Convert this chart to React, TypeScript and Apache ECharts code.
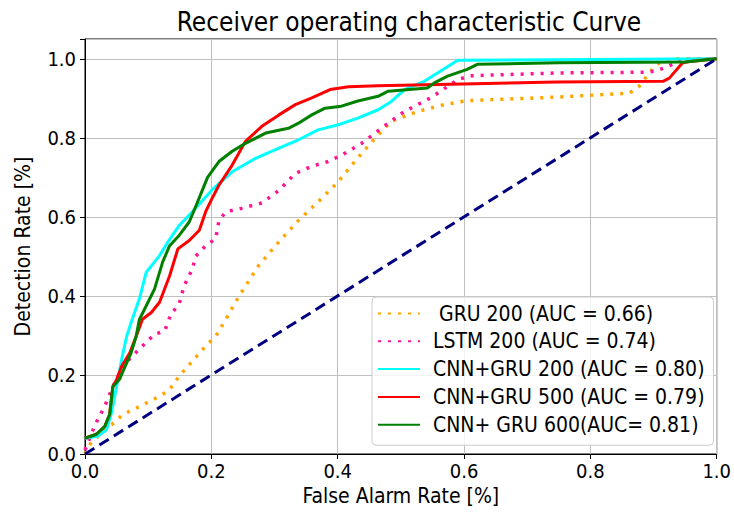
import React, { useEffect, useRef } from 'react';
import * as echarts from 'echarts';

const TITLE = 'Receiver operating characteristic Curve';
const X_LABEL = 'False Alarm Rate [%]';
const Y_LABEL = 'Detection Rate [%]';
const X_TICKS = [0, 0.2, 0.4, 0.6, 0.8, 1.0];
const Y_TICKS = [0, 0.2, 0.4, 0.6, 0.8, 1.0];

const NAMES = [
  ' GRU 200 (AUC = 0.66)',
  'LSTM 200 (AUC = 0.74)',
  'CNN+GRU 200 (AUC = 0.80)',
  'CNN+GRU 500 (AUC = 0.79)',
  'CNN+ GRU 600(AUC= 0.81)',
];

const gru200: [number, number][] = [
  [0, 0.0], [0.01, 0.03], [0.045, 0.078], [0.06, 0.1], [0.086, 0.12], [0.118, 0.146],
  [0.134, 0.163], [0.149, 0.197], [0.17, 0.235], [0.191, 0.273], [0.207, 0.298],
  [0.223, 0.341], [0.244, 0.4], [0.275, 0.477], [0.307, 0.537], [0.338, 0.591],
  [0.369, 0.638], [0.401, 0.689], [0.427, 0.74], [0.459, 0.799], [0.485, 0.842],
  [0.527, 0.867], [0.569, 0.884], [0.605, 0.894], [0.747, 0.903], [0.862, 0.913],
  [0.877, 0.93], [0.904, 0.986], [0.93, 1.0], [1, 1.0],
];

const lstm200: [number, number][] = [
  [0, 0.01], [0.016, 0.074], [0.031, 0.12], [0.044, 0.17], [0.06, 0.222], [0.075, 0.248],
  [0.091, 0.273], [0.11, 0.303], [0.126, 0.311], [0.136, 0.354], [0.149, 0.379],
  [0.157, 0.426], [0.17, 0.468], [0.175, 0.5], [0.191, 0.527], [0.207, 0.545],
  [0.212, 0.59], [0.223, 0.613], [0.244, 0.62], [0.28, 0.635], [0.307, 0.667],
  [0.333, 0.71], [0.359, 0.728], [0.385, 0.74], [0.406, 0.756], [0.437, 0.785],
  [0.469, 0.824], [0.506, 0.867], [0.547, 0.901], [0.59, 0.947], [0.61, 0.957],
  [0.747, 0.964], [0.888, 0.966], [0.904, 0.969], [0.917, 0.977], [0.93, 0.986],
  [0.946, 0.998], [1, 1.0],
];

const cnnGru200: [number, number][] = [
  [0, 0.04], [0.02, 0.045], [0.034, 0.061], [0.042, 0.104], [0.05, 0.171], [0.058, 0.239],
  [0.066, 0.298], [0.073, 0.333], [0.086, 0.392], [0.097, 0.46], [0.118, 0.502],
  [0.131, 0.536], [0.149, 0.578], [0.17, 0.613], [0.201, 0.668], [0.233, 0.714],
  [0.27, 0.748], [0.307, 0.774], [0.338, 0.795], [0.369, 0.82], [0.401, 0.833],
  [0.432, 0.85], [0.464, 0.871], [0.485, 0.892], [0.506, 0.922], [0.537, 0.943],
  [0.558, 0.964], [0.59, 0.996], [1, 1.0],
];

const cnnGru500: [number, number][] = [
  [0, 0.04], [0.018, 0.05], [0.031, 0.069], [0.039, 0.1], [0.044, 0.17], [0.05, 0.188],
  [0.058, 0.222], [0.071, 0.256], [0.081, 0.298], [0.091, 0.341], [0.105, 0.358],
  [0.118, 0.384], [0.134, 0.451], [0.147, 0.519], [0.165, 0.54], [0.181, 0.566],
  [0.191, 0.613], [0.201, 0.646], [0.212, 0.68], [0.233, 0.731], [0.254, 0.791],
  [0.28, 0.829], [0.307, 0.858], [0.333, 0.884], [0.359, 0.901], [0.388, 0.922],
  [0.417, 0.929], [0.464, 0.932], [0.747, 0.941], [0.915, 0.943], [0.925, 0.951],
  [0.946, 0.99], [0.962, 0.994], [1, 1.0],
];

const cnnGru600: [number, number][] = [
  [0, 0.04], [0.018, 0.05], [0.031, 0.069], [0.039, 0.1], [0.044, 0.17], [0.055, 0.19],
  [0.063, 0.22], [0.073, 0.256], [0.081, 0.298], [0.086, 0.34], [0.097, 0.375],
  [0.11, 0.417], [0.123, 0.486], [0.134, 0.527], [0.149, 0.553], [0.165, 0.587],
  [0.176, 0.629], [0.194, 0.7], [0.212, 0.74], [0.233, 0.766], [0.254, 0.786],
  [0.286, 0.812], [0.322, 0.824], [0.338, 0.837], [0.359, 0.858], [0.38, 0.875],
  [0.406, 0.88], [0.432, 0.893], [0.464, 0.905], [0.48, 0.918], [0.542, 0.926],
  [0.553, 0.939], [0.574, 0.956], [0.605, 0.973], [0.621, 0.986], [0.75, 0.99],
  [0.95, 0.992], [1, 1.0],
];

const chance: [number, number][] = [[0, 0], [1, 1]];

const FONT = "'DejaVu Sans Condensed', 'DejaVu Sans', sans-serif";

const isTick = (v: number, ticks: number[]) => ticks.some((t) => Math.abs(t - v) < 1e-6);

export default function App() {
  const ref = useRef<HTMLDivElement>(null);
  useEffect(() => {
    if (!ref.current) return;
    const chart = echarts.init(ref.current, undefined, { renderer: 'svg' });
    const mk = (name: string, data: [number, number][], color: string, dotted: boolean) => ({
      type: 'line',
      name,
      data,
      symbol: 'none',
      showSymbol: false,
      lineStyle: { color, width: dotted ? 3.5 : 3, type: dotted ? [3, 7] : 'solid' },
      itemStyle: { color },
      z: 2,
    });
    chart.setOption({
      animation: false,
      backgroundColor: '#ffffff',
      title: {
        text: TITLE,
        left: 404,
        top: 4,
        textAlign: 'center',
        textStyle: { fontFamily: FONT, fontSize: 26, fontWeight: 'normal', color: '#000' },
      },
      legend: {
        orient: 'vertical',
        left: 372,
        top: 297,
        itemWidth: 42,
        itemHeight: 14,
        itemGap: 6.8,
        padding: [6, 9, 10, 5],
        backgroundColor: 'rgba(255,255,255,0.8)',
        borderColor: '#cccccc',
        borderWidth: 1,
        borderRadius: 4,
        data: NAMES,
        itemStyle: { opacity: 0, borderWidth: 0 },
        textStyle: { fontFamily: FONT, fontSize: 21, color: '#000', padding: [0, 0, 0, 8] },
      },
      grid: { left: 85, right: 13, top: 39, bottom: 65, show: true, borderColor: '#000', borderWidth: 1, backgroundColor: 'transparent' },
      xAxis: {
        type: 'value',
        min: 0,
        max: 1,
        interval: 0.2,
        name: X_LABEL,
        nameLocation: 'middle',
        nameGap: 31,
        nameTextStyle: { fontFamily: FONT, fontSize: 21, color: '#000' },
        axisLine: { show: true, onZero: false, lineStyle: { color: '#000', width: 1 } },
        axisTick: { show: true, length: 5, lineStyle: { color: '#000' } },
        axisLabel: { fontFamily: FONT, fontSize: 20, color: '#000', margin: 7, formatter: (v: number) => (isTick(v, X_TICKS) ? v.toFixed(1) : '') },
        splitLine: { show: true, lineStyle: { color: '#c0c0c0', width: 1 } },
      },
      yAxis: {
        type: 'value',
        min: 0,
        max: 1.05,
        interval: 0.2,
        name: Y_LABEL,
        nameLocation: 'middle',
        nameGap: 52,
        nameTextStyle: { fontFamily: FONT, fontSize: 21, color: '#000' },
        axisLine: { show: true, onZero: false, lineStyle: { color: '#000', width: 1 } },
        axisTick: { show: true, length: 5, lineStyle: { color: '#000' } },
        axisLabel: { fontFamily: FONT, fontSize: 20, color: '#000', margin: 9, formatter: (v: number) => (isTick(v, Y_TICKS) ? v.toFixed(1) : '') },
        splitLine: { show: true, lineStyle: { color: '#c0c0c0', width: 1 } },
      },
      series: [
        mk(NAMES[0], gru200, '#FFA500', true),
        mk(NAMES[1], lstm200, '#FF1493', true),
        mk(NAMES[2], cnnGru200, '#00FFFF', false),
        mk(NAMES[3], cnnGru500, '#FF0000', false),
        mk(NAMES[4], cnnGru600, '#008000', false),
        {
          type: 'line',
          name: 'chance',
          data: chance,
          symbol: 'none',
          lineStyle: { color: '#000080', width: 3, type: [11, 6] },
          itemStyle: { color: '#000080' },
          z: 3,
        },
      ],
    });
    return () => chart.dispose();
  }, []);
  return <div ref={ref} style={{ position: 'fixed', left: 0, top: 0, width: 734, height: 519 }} />;
}
